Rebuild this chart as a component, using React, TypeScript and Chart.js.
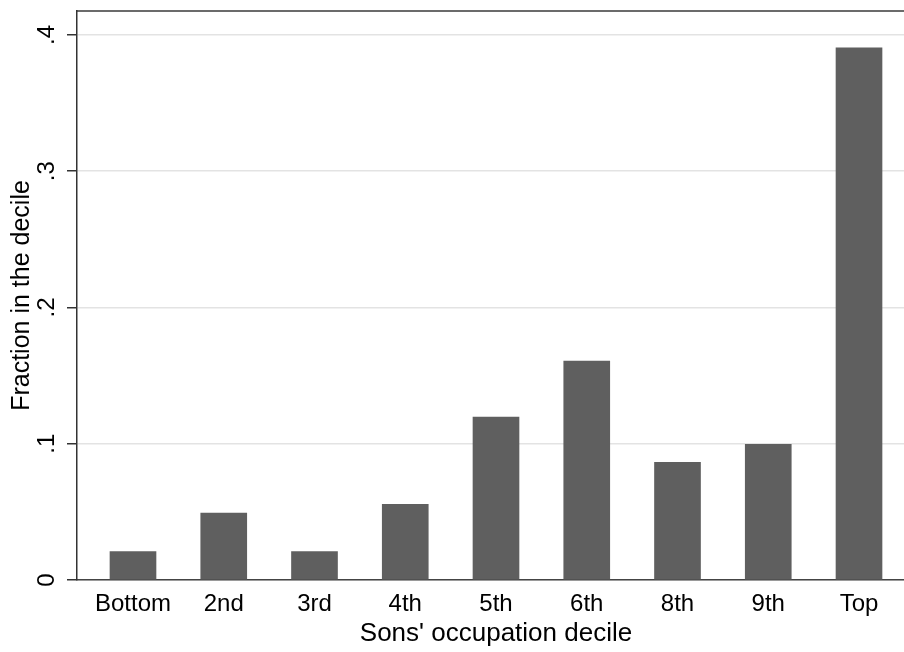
import { useEffect, useRef } from "react";
import { Chart, registerables } from "chart.js";

Chart.register(...registerables);

const categories = ["Bottom", "2nd", "3rd", "4th", "5th", "6th", "8th", "9th", "Top"];
const fractions = [0.0208, 0.0492, 0.0208, 0.0556, 0.1196, 0.1607, 0.0864, 0.0996, 0.3905];
const yTickValues = [0, 0.1, 0.2, 0.3, 0.4];
const yTickLabels = ["0", ".1", ".2", ".3", ".4"];
const xTitle = "Sons' occupation decile";
const yTitle = "Fraction in the decile";

const FONT = "'Liberation Sans', Arial, Helvetica, sans-serif";

export default function App() {
  const ref = useRef<HTMLCanvasElement | null>(null);

  useEffect(() => {
    if (!ref.current) return;
    const chart = new Chart(ref.current, {
      type: "bar",
      data: {
        datasets: [
          {
            data: fractions.map((v, i) => ({ x: i, y: v })),
            backgroundColor: "#5f5f5f",
            borderWidth: 0,
            barThickness: 46,
          },
        ],
      },
      options: {
        responsive: false,
        animation: false,
        layout: { padding: { left: 0, top: 11, right: 15, bottom: 0 } },
        plugins: {
          legend: { display: false },
          tooltip: { enabled: false },
        },
        scales: {
          x: {
            type: "linear",
            position: "bottom",
            offset: false,
            min: -0.617,
            max: categories.length - 1 + 0.617,
            afterBuildTicks: (scale: any) => {
              scale.ticks = categories.map((_, i) => ({ value: i }));
            },
            afterFit: (scale: any) => {
              scale.height = 72;
              scale.paddingLeft = 0;
              scale.paddingRight = 0;
            },
            grid: { display: false, drawTicks: false },
            border: { display: true, color: "#444", width: 1.5 },
            ticks: {
              autoSkip: false,
              maxRotation: 0,
              minRotation: 0,
              padding: 10,
              color: "#000",
              font: { family: FONT, size: 24 },
              callback: (v: any) => categories[Math.round(Number(v))] ?? "",
            },
            title: {
              display: true,
              text: xTitle,
              color: "#000",
              font: { family: FONT, size: 26 },
              padding: { top: 0, bottom: 3 },
            },
          },
          x2: {
            type: "linear",
            position: "top",
            min: -0.617,
            max: categories.length - 1 + 0.617,
            afterFit: (scale: any) => {
              scale.height = 0;
              scale.paddingLeft = 0;
              scale.paddingRight = 0;
            },
            grid: { display: false, drawTicks: false },
            border: { display: true, color: "#6b6b6b", width: 2 },
            ticks: { display: false },
          },
          y: {
            type: "linear",
            position: "left",
            min: 0,
            max: 0.4176,
            afterBuildTicks: (scale: any) => {
              scale.ticks = yTickValues.map((v) => ({ value: v }));
            },
            afterFit: (scale: any) => {
              scale.width = 77;
              scale.paddingTop = 0;
              scale.paddingBottom = 0;
            },
            grid: {
              display: true,
              color: "#e3e3e3",
              lineWidth: 1.5,
              drawTicks: true,
              tickLength: 10,
              tickColor: "#333",
              tickWidth: 1.5,
            },
            border: { display: true, color: "#333", width: 1.5 },
            ticks: {
              minRotation: 90,
              maxRotation: 90,
              crossAlign: "center",
              padding: 10,
              color: "#000",
              font: { family: FONT, size: 24 },
              callback: (v: any) => {
                const idx = yTickValues.findIndex((t) => Math.abs(t - Number(v)) < 1e-9);
                return idx >= 0 ? yTickLabels[idx] : "";
              },
            },
            title: {
              display: true,
              text: yTitle,
              color: "#000",
              font: { family: FONT, size: 25 },
              padding: { top: 7, bottom: 0 },
            },
          },
        },
      } as any,
    });
    return () => chart.destroy();
  }, []);

  return (
    <div
      style={{
        position: "fixed",
        left: 0,
        top: 0,
        width: 904,
        height: 652,
        overflow: "hidden",
        background: "#fff",
      }}
    >
      <canvas ref={ref} width={930} height={652} style={{ display: "block", width: 930, height: 652 }} />
    </div>
  );
}
